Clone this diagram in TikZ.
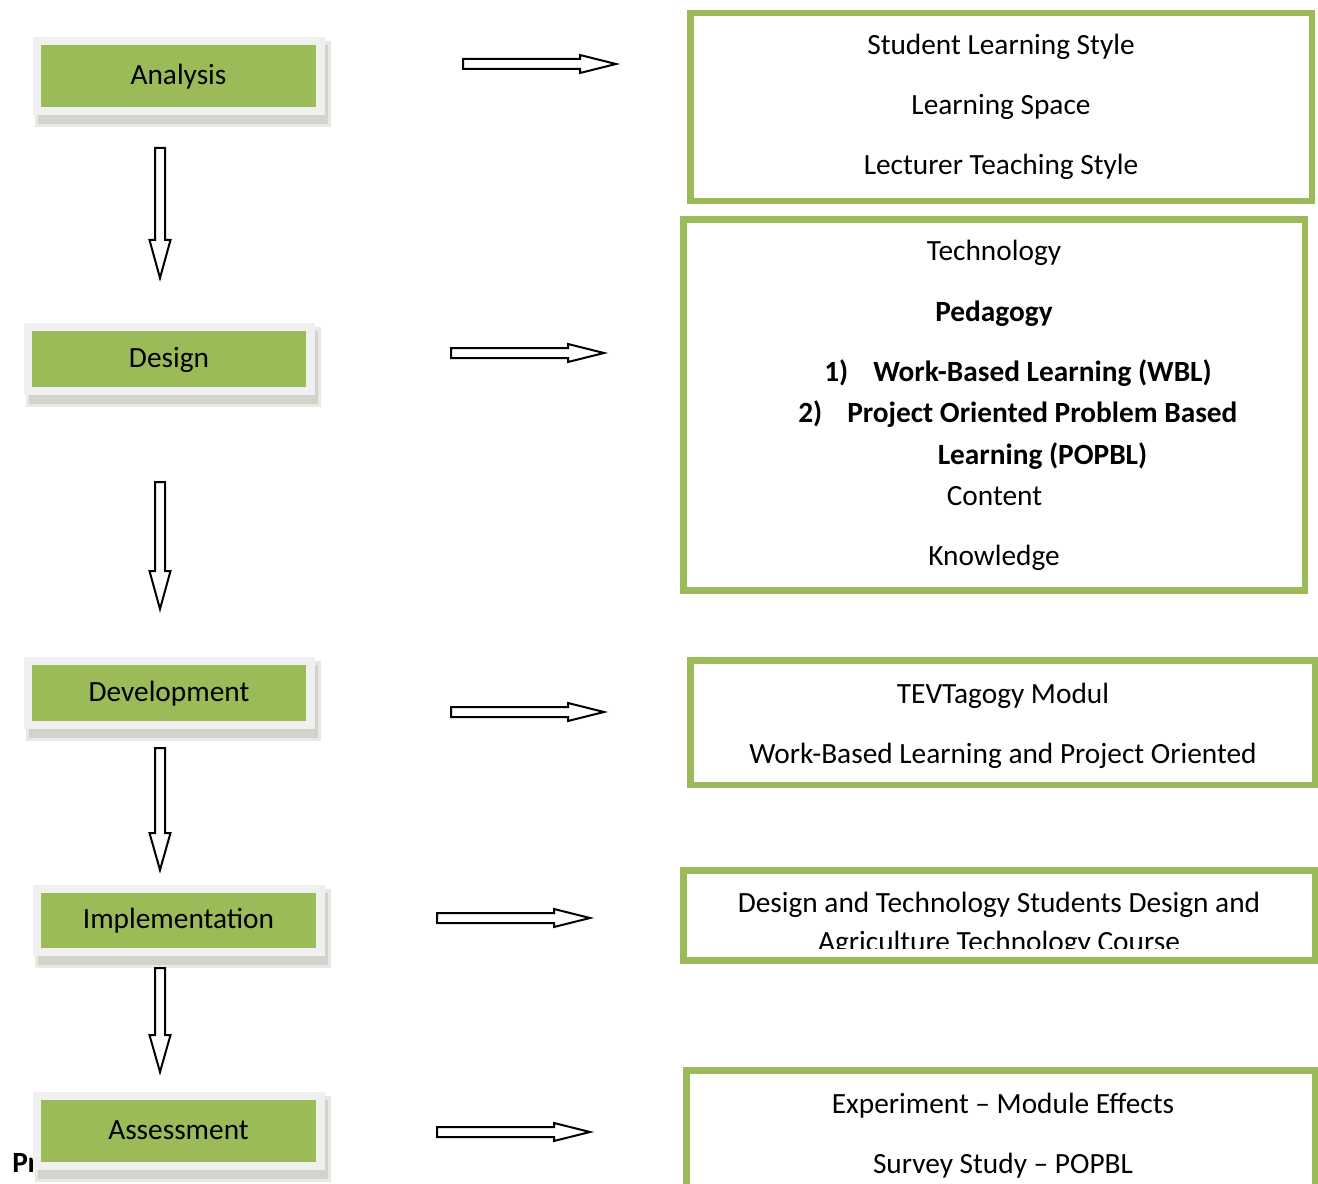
\documentclass[tikz,border=0pt]{standalone}
\usepackage{fontspec}
\setmainfont{Carlito}
\definecolor{ogreen}{HTML}{9BBB59}
\definecolor{framec}{HTML}{F0F0F0}
\definecolor{shadc}{HTML}{CACDC3}
\definecolor{shadl}{HTML}{E8E9E4}
\newcommand\RArrow[3]{% x1 x2 y
  \draw[blockarrow] (#1,{#3-5}) -- ({#2-36},{#3-5}) -- ({#2-36},{#3-9}) -- (#2,#3)
    -- ({#2-36},{#3+9}) -- ({#2-36},{#3+5}) -- (#1,{#3+5}) -- cycle;}
\newcommand\DArrow[4]{% x y1 y2 headstart
  \draw[blockarrow] ({#1-5},#2) -- ({#1+5},#2) -- ({#1+5},#4) -- ({#1+10.5},#4) -- (#1,#3)
    -- ({#1-10.5},#4) -- ({#1-5},#4) -- cycle;}
\newcommand\LeftBox[6]{% name cx cy w h text
  \fill[shadl] ({#2-#4/2-6},{#3-#5/2-4}) rectangle ({#2+#4/2+15},{#3+#5/2+20});
  \fill[shadc,opacity=0.75] ({#2-#4/2-3},{#3-#5/2}) rectangle ({#2+#4/2+12},{#3+#5/2+17});
  \fill[framec] ({#2-#4/2-8},{#3-#5/2-8}) rectangle ({#2+#4/2+9},{#3+#5/2+8});
  \node[stage, minimum width=#4*0.75pt, minimum height=#5*0.75pt] (#1) at (#2,#3) {#6};}
\begin{document}
\begin{tikzpicture}[x=0.75pt,y=-0.75pt,
  every node/.style={font=\fontsize{22}{26}\selectfont},
  blockarrow/.style={draw=black, fill=white, line width=1.5pt, line join=miter},
  stage/.style={fill=ogreen, inner sep=0pt, text height=12.5pt, text depth=0pt},
  gframe/.style={draw=ogreen, line width=4.8pt},
  txt/.style={anchor=base, inner sep=0pt},
  txtw/.style={anchor=base west, inner sep=0pt},
  btxt/.style={anchor=base, inner sep=0pt, font=\fontsize{22}{26}\selectfont\bfseries},
  btxtw/.style={anchor=base west, inner sep=0pt, font=\fontsize{22}{26}\selectfont\bfseries}]
\useasboundingbox (0,0) rectangle (1318,1184);
\fill[white] (0,0) rectangle (1318,1184);

% left stages
\LeftBox{analysis}{178.5}{76}{275}{62}{Analysis}
\LeftBox{design}{169}{359}{274}{56}{Design}
\LeftBox{development}{169}{693}{274}{56}{Development}
\LeftBox{implementation}{178.5}{920.5}{275}{55}{Implementation}
\node[btxtw] (problem) at (12,1172) {Problem Statement};
\LeftBox{assessment}{178.5}{1131}{275}{62}{Assessment}

% down arrows
\DArrow{160}{148}{278}{240}
\DArrow{160}{482}{609}{571}
\DArrow{160}{748}{870}{833}
\DArrow{160}{968}{1072}{1035}

% right arrows
\RArrow{463}{616}{64}
\RArrow{451}{604}{353}
\RArrow{451}{604}{712}
\RArrow{437}{590}{918}
\RArrow{437}{590}{1132}

% right boxes
\draw[gframe] (690.5,13) rectangle (1312,201);
\node[txt] (r1a) at (1001,55) {Student Learning Style};
\node[txt] (r1b) at (1001,115) {Learning Space};
\node[txt] (r1c) at (1001,175) {Lecturer Teaching Style};

\draw[gframe] (683.5,219.5) rectangle (1305,590.5);
\node[txt] (r2a) at (994,261) {Technology};
\node[btxt] (r2b) at (994,321) {Pedagogy};
\node[btxtw] (r2n1) at (824,381) {1)};
\node[btxtw] (r2c) at (873,381) {Work-Based Learning (WBL)};
\node[btxtw] (r2n2) at (798,422) {2)};
\node[btxtw] (r2d) at (847,422) {Project Oriented Problem Based};
\node[btxt] (r2e) at (1042.5,464) {Learning (POPBL)};
\node[txt] (r2f) at (994.5,505) {Content};
\node[txt] (r2g) at (994,565) {Knowledge};

\draw[gframe] (690.5,660.5) rectangle (1315,785);
\node[txt] (r3a) at (1003,703) {TEVTagogy Modul};
\node[txt] (r3b) at (1003,763) {Work-Based Learning and Project Oriented};

\draw[gframe] (683.5,870.5) rectangle (1315.5,960.5);
\node[txt] (r4a) at (999,912) {Design and Technology Students Design and};
\begin{scope}
  \clip (686,874) rectangle (1312,948);
  \node[txt] (r4b) at (999,951) {Agriculture Technology Course};
\end{scope}

\draw[gframe] (686.5,1070.5) rectangle (1315,1200);
\node[txt] (r5a) at (1003,1113) {Experiment – Module Effects};
\node[txt] (r5b) at (1003,1173) {Survey Study – POPBL};
\end{tikzpicture}
\end{document}
